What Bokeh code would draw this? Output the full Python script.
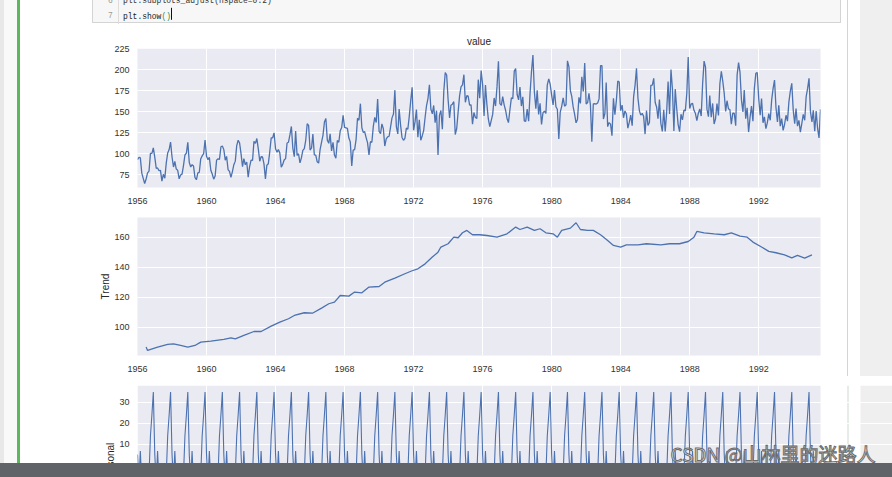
import numpy as np
import pandas as pd
from bokeh.plotting import figure
from bokeh.models import Range1d, FixedTicker, DatetimeTickFormatter, Div, Label, BoxAnnotation
from bokeh.layouts import row, column
from bokeh.embed import file_html
from bokeh.resources import INLINE

# ---------------- data ----------------
start_month = "1956-01-01"
beer_values = [
    93.2, 96.0, 95.2, 77.1, 70.9, 64.8, 70.1, 77.3, 79.5, 100.6, 100.7, 107.1,
    95.9, 82.8, 83.3, 80.0, 80.4, 67.5, 75.7, 71.1, 89.3, 101.1, 105.2, 114.1,
    96.3, 84.4, 91.2, 81.9, 80.5, 70.4, 74.8, 75.9, 86.3, 98.7, 100.9, 113.8,
    89.8, 84.4, 87.2, 85.6, 72.0, 69.2, 77.5, 78.1, 94.3, 97.7, 100.2, 116.4,
    97.1, 93.0, 96.0, 80.5, 76.1, 69.9, 73.6, 92.6, 94.2, 93.5, 108.5, 109.4,
    105.1, 92.5, 97.1, 81.4, 79.1, 72.1, 78.7, 87.1, 91.4, 109.9, 116.3, 113.0,
    100.0, 84.8, 94.3, 87.1, 90.3, 72.4, 84.9, 92.7, 92.2, 114.9, 112.5, 118.3,
    106.0, 91.2, 96.6, 96.3, 88.2, 70.2, 86.5, 88.2, 102.8, 119.1, 119.2, 125.1,
    106.1, 102.1, 105.2, 101.0, 84.3, 87.5, 92.7, 94.4, 113.0, 113.9, 122.9, 132.7,
    106.9, 96.6, 127.3, 98.2, 100.2, 89.4, 95.3, 104.2, 106.4, 116.2, 135.9, 134.0,
    104.6, 107.1, 123.5, 98.8, 98.6, 90.6, 89.1, 105.2, 114.0, 122.1, 138.0, 142.2,
    116.4, 112.6, 123.8, 103.6, 113.9, 98.6, 95.0, 116.0, 113.9, 127.5, 131.4, 145.9,
    131.5, 131.0, 130.5, 118.9, 114.3, 85.7, 104.6, 105.1, 117.3, 142.5, 140.0, 159.8,
    131.2, 125.4, 126.5, 119.4, 113.5, 98.7, 114.5, 113.8, 133.1, 143.4, 137.3, 165.2,
    126.9, 124.0, 135.7, 130.0, 109.4, 117.8, 120.3, 121.0, 132.3, 142.9, 147.4, 175.9,
    132.6, 123.7, 153.3, 134.0, 119.6, 116.2, 118.6, 130.7, 129.3, 144.4, 163.2, 179.4,
    128.1, 138.4, 152.7, 120.0, 140.5, 116.2, 121.4, 127.8, 143.6, 157.6, 166.2, 182.3,
    153.1, 147.6, 157.7, 137.2, 151.5, 98.7, 145.8, 151.7, 129.4, 174.1, 197.0, 193.9,
    164.1, 142.8, 157.9, 159.2, 162.2, 123.1, 130.0, 150.1, 169.4, 179.7, 182.1, 194.3,
    161.4, 169.4, 168.8, 158.1, 158.5, 135.3, 149.3, 143.4, 142.2, 188.4, 166.2, 199.2,
    182.7, 145.2, 182.1, 158.7, 141.6, 132.6, 139.6, 147.0, 166.6, 157.0, 180.4, 210.2,
    159.8, 157.8, 168.2, 158.4, 152.0, 142.2, 137.2, 152.6, 166.8, 165.6, 198.6, 201.5,
    170.7, 164.4, 179.7, 157.0, 168.0, 139.3, 138.6, 153.4, 138.9, 172.1, 198.4, 217.8,
    173.7, 153.8, 175.6, 147.1, 160.3, 135.2, 148.8, 151.0, 148.2, 182.2, 189.2, 183.1,
    170.0, 158.4, 176.1, 156.2, 153.2, 117.9, 149.8, 156.6, 166.7, 156.8, 158.6, 210.8,
    203.6, 175.2, 168.7, 155.9, 147.3, 137.0, 141.1, 167.4, 160.2, 191.9, 174.4, 208.2,
    159.4, 161.1, 172.1, 158.4, 114.6, 159.6, 159.7, 159.4, 160.7, 165.5, 205.0, 205.2,
    141.6, 148.1, 184.9, 132.5, 137.3, 135.5, 121.7, 166.1, 146.8, 162.8, 186.8, 185.5,
    151.5, 158.1, 143.0, 151.2, 147.6, 130.7, 137.5, 146.1, 133.6, 167.9, 181.9, 202.0,
    166.5, 151.3, 146.2, 148.3, 144.7, 123.6, 151.6, 133.9, 137.4, 181.6, 182.0, 190.0,
    161.2, 155.5, 141.9, 164.6, 136.2, 126.8, 152.5, 126.6, 150.1, 186.3, 147.5, 200.4,
    177.2, 127.4, 177.1, 154.4, 135.2, 126.4, 147.3, 140.6, 152.3, 151.2, 172.2, 215.3,
    154.1, 159.3, 160.4, 151.9, 148.4, 139.6, 148.2, 153.5, 145.1, 183.7, 210.5, 203.3,
    153.3, 144.3, 169.6, 143.7, 160.1, 135.6, 141.8, 159.9, 145.7, 183.5, 198.2, 186.8,
    172.0, 150.6, 163.3, 153.7, 152.9, 135.5, 148.5, 148.4, 133.6, 194.1, 208.6, 197.3,
    164.0, 150.0, 176.0, 142.0, 155.0, 126.0, 143.0, 157.0, 139.0, 178.0, 196.0, 197.0,
    166.0, 146.0, 166.0, 137.0, 144.0, 130.0, 137.0, 148.0, 140.0, 164.0, 178.0, 188.0,
    155.0, 138.0, 158.0, 133.0, 142.0, 128.0, 135.0, 146.0, 139.0, 162.0, 175.0, 184.0,
    152.0, 136.0, 154.0, 133.0, 140.0, 126.0, 136.0, 147.0, 140.0, 168.0, 178.0, 190.0,
    150.0, 138.0, 152.0, 127.0, 151.0, 130.0, 119.0, 153.0,
]

trend_dates = [
    "1956-07", "1956-08", "1957-03", "1957-10", "1958-02", "1958-07", "1958-12", "1959-05",
    "1959-09", "1960-04", "1961-01", "1961-06", "1961-09", "1962-03", "1962-10", "1963-03",
    "1963-10", "1964-04", "1964-10", "1965-02", "1965-09", "1966-03", "1966-09", "1967-02",
    "1967-06", "1967-10", "1968-04", "1968-08", "1969-01", "1969-06", "1970-01", "1970-05",
    "1970-12", "1971-07", "1971-12", "1972-04", "1972-09", "1973-02", "1973-06", "1973-08",
    "1974-01", "1974-05", "1974-08", "1974-11", "1975-02", "1975-06", "1975-11", "1976-04",
    "1976-11", "1977-06", "1977-12", "1978-03", "1978-08", "1979-01", "1979-05", "1979-09",
    "1980-02", "1980-05", "1980-08", "1981-02", "1981-06", "1981-09", "1982-02", "1982-06",
    "1982-11", "1983-04", "1983-08", "1984-01", "1984-05", "1985-01", "1985-07", "1986-05",
    "1986-11", "1987-06", "1987-12", "1988-04", "1988-06", "1988-11", "1989-06", "1990-01",
    "1990-06", "1990-12", "1991-05", "1991-09", "1992-03", "1992-08", "1993-01", "1993-07",
    "1993-12", "1994-04", "1994-09", "1995-02",
]
trend_values = [
    86.9, 84.7, 86.9, 88.7, 89.1, 88.0, 86.9, 88.0, 90.2, 90.9,
    92.0, 93.1, 92.4, 94.7, 97.3, 97.3, 100.9, 103.6, 105.8, 108.0,
    109.8, 109.6, 112.9, 115.8, 116.9, 121.3, 120.9, 123.6, 123.1, 126.9,
    127.3, 130.2, 132.9, 135.8, 137.8, 139.1, 142.4, 146.9, 150.2, 153.6,
    155.8, 160.2, 159.8, 163.1, 164.7, 161.8, 161.8, 161.3, 160.2, 162.4,
    166.9, 165.3, 166.9, 164.7, 165.8, 163.1, 162.4, 160.2, 164.7, 166.2,
    169.8, 165.3, 164.7, 164.7, 161.8, 158.0, 154.7, 153.6, 155.1, 155.1,
    155.8, 155.1, 155.8, 155.8, 157.3, 160.2, 164.0, 163.1, 162.4, 161.8,
    163.1, 160.9, 160.2, 156.9, 153.6, 150.7, 149.8, 148.4, 146.4, 148.0,
    146.2, 148.4,
]

# monthly seasonal indices Jan..Dec (repeat every year)
seasonal_pattern = [5.0, -8.5, 6.7, -9.0, -11.5, -27.0, -16.0, -8.0, -4.5, 14.0, 24.0, 34.8]

year_ticks = [1956, 1960, 1964, 1968, 1972, 1976, 1980, 1984, 1988, 1992]
value_ticks = [75, 100, 125, 150, 175, 200, 225]
trend_ticks = [80, 100, 120, 140, 160]
seasonal_ticks = [0, 10, 20, 30]

# ---------------- derived x positions ----------------
dates = pd.date_range(start_month, periods=len(beer_values), freq="MS")
trend_x = pd.to_datetime(trend_dates)
n_years = len(beer_values) // 12 + 1
seasonal_values = np.tile(np.array(seasonal_pattern), n_years)[:len(beer_values)]

tick_ms = [pd.Timestamp(f"{y}-01-01").value / 1e6 for y in year_ticks]

LINE = "#4c72b0"
BG = "#eaeaf2"
FONT = "Liberation Sans"
TXT = "#333333"

x_start_ms = dates[0].value / 1e6
x_end_ms = dates[-1].value / 1e6

# page-pixel geometry of the plotting frames
FRAME_L, FRAME_R = 137, 820


def px_to_ms(px):
    return x_start_ms + (px - FRAME_L) / (FRAME_R - FRAME_L) * (x_end_ms - x_start_ms)


def make_fig(width, height, ylo, yhi, yticks, mb_top, mb_bottom, mb_right, x_hi, show_x=True):
    p = figure(width=width, height=height, output_backend="svg", toolbar_location=None,
               x_axis_type="datetime", margin=0,
               x_range=Range1d(x_start_ms, x_hi), y_range=Range1d(ylo, yhi),
               min_border_left=117, min_border_right=mb_right,
               min_border_top=mb_top, min_border_bottom=mb_bottom)
    p.background_fill_color = BG
    p.border_fill_color = "white"
    p.outline_line_color = None
    p.xaxis.ticker = FixedTicker(ticks=tick_ms)
    p.xaxis.formatter = DatetimeTickFormatter(
        years="%Y", months="%Y", days="%Y", hours="%Y", hourmin="%Y",
        minutes="%Y", minsec="%Y", seconds="%Y", milliseconds="%Y", microseconds="%Y")
    p.yaxis.ticker = FixedTicker(ticks=yticks)
    for ax in p.axis:
        ax.axis_line_color = None
        ax.major_tick_line_color = None
        ax.minor_tick_line_color = None
        ax.major_tick_out = 0
        ax.major_tick_in = 0
        ax.minor_tick_out = 0
        ax.minor_tick_in = 0
        ax.major_label_text_font = FONT
        ax.major_label_text_font_size = "9px"
        ax.major_label_text_color = TXT
    p.xaxis.major_label_standoff = 10
    p.yaxis.major_label_standoff = 8
    p.grid.grid_line_color = "white"
    p.grid.grid_line_width = 1
    if not show_x:
        p.xaxis.visible = False
    return p


def ylabel(p, text):
    p.yaxis.axis_label = text
    p.yaxis.axis_label_text_font = FONT
    p.yaxis.axis_label_text_font_size = "10px"
    p.yaxis.axis_label_text_font_style = "normal"
    p.yaxis.axis_label_text_color = "#262626"
    p.yaxis.axis_label_standoff = 0


# panel 1: value  (page y 25..208, frame 48..187)
p1 = make_fig(828, 183, 60.0, 225.5, value_ticks, 23, 21, 28, x_end_ms)
p1.title.text = "value"
p1.title.align = "center"
p1.title.text_font = FONT
p1.title.text_font_size = "10px"
p1.title.text_font_style = "normal"
p1.title.text_color = "#262626"
p1.title.standoff = 3
p1.line(dates, beer_values, line_color=LINE, line_width=1.3)

# panel 2: trend  (page y 208..376, frame 217..355)
p2 = make_fig(828, 168, 81.3, 173.3, trend_ticks, 9, 21, 28, x_end_ms)
ylabel(p2, "Trend")
p2.line(trend_x, trend_values, line_color=LINE, line_width=1.3)

# panel 3: seasonal (page y 376..463, cut off by the player bar); frame runs to the page edge
p3 = make_fig(872, 87, 0.76, 37.9, seasonal_ticks, 9, 0, 0, px_to_ms(892), show_x=False)
p3.background_fill_color = "white"
p3.add_layout(BoxAnnotation(left=x_start_ms, right=x_end_ms, fill_color=BG, fill_alpha=1,
                            line_color=None, level="image"))
p3.add_layout(BoxAnnotation(left=px_to_ms(847), right=px_to_ms(848), fill_color="#cdd9cf",
                            fill_alpha=1, line_color=None, level="image"))
p3.add_layout(BoxAnnotation(left=px_to_ms(860), fill_color="#efefef", fill_alpha=1,
                            line_color=None, level="image"))
p3.ygrid.bounds = (x_start_ms, x_end_ms)
ylabel(p3, "Seasonal")
try:
    p3.yaxis.axis_label_align = "start"
except Exception:
    pass
p3.line(dates, seasonal_values, line_color=LINE, line_width=1.1)
p3.add_layout(Label(x=px_to_ms(875), y=5.3, text="CSDN @山林里的迷路人",
                    text_align="right", text_baseline="middle",
                    text_font="Noto Sans CJK SC", text_font_size="19px",
                    text_color="#f2f2f2", text_outline_color="#6b6b6b"))

# ---------------- notebook chrome ----------------
code_html = (
    '<div style="position:relative;width:872px;height:25px;overflow:hidden;background:#ffffff;">'
    '<div style="position:absolute;left:827px;top:0;width:1px;height:25px;background:#cdd9cf;"></div>'
    '<div style="position:absolute;left:840px;top:0;width:32px;height:25px;background:#efefef;"></div>'
    '<div style="position:absolute;left:72px;top:-10px;width:749px;height:33px;background:#f7f7f7;'
    'border:1px solid #d4d4d4;font-family:\'Liberation Mono\',monospace;font-size:8px;line-height:11px;">'
    '<div style="position:absolute;left:25px;top:0;width:1px;height:33px;background:#dddddd;"></div>'
    '<div style="position:absolute;left:15px;top:3px;color:#9a9a9a;transform:scaleY(1.2);">6</div>'
    '<div style="position:absolute;left:30px;top:3px;color:#333;transform:scaleY(1.2);white-space:nowrap;">'
    'plt.subplots_adjust(hspace=0.2)</div>'
    '<div style="position:absolute;left:15px;top:18px;color:#9a9a9a;transform:scaleY(1.2);">7</div>'
    '<div style="position:absolute;left:30px;top:18px;color:#222;transform:scaleY(1.2);white-space:nowrap;">'
    'plt.show<span style="color:#3a8a3a;">()</span>'
    '<span style="display:inline-block;width:1px;height:10px;background:#111;vertical-align:-1px;"></span>'
    '</div></div></div>'
)
code_div = Div(text=code_html, width=872, height=25, margin=0)

left_html = (
    '<div style="position:relative;width:20px;height:463px;background:#f9f9f9;">'
    '<div style="position:absolute;left:0;top:0;width:4px;height:463px;background:#e8e8e8;"></div>'
    '<div style="position:absolute;left:17px;top:0;width:3px;height:463px;background:#5cb85c;"></div>'
    '</div>'
)
left_div = Div(text=left_html, width=20, height=463, margin=0)

right_html = (
    '<div style="position:relative;width:44px;height:351px;background:#ffffff;">'
    '<div style="position:absolute;left:-1px;top:0;width:1px;height:351px;background:#cdd9cf;"></div>'
    '<div style="position:absolute;left:12px;top:0;width:32px;height:351px;background:#efefef;"></div>'
    '</div>'
)
right_div = Div(text=right_html, width=44, height=351, margin=0)

bar_div = Div(text='<div style="width:892px;height:14px;background:#606367;"></div>',
              width=892, height=14, margin=0)

middle = column(code_div, row(column(p1, p2, spacing=0), right_div, spacing=0), p3, spacing=0)
layout = column(row(left_div, middle, spacing=0), bar_div, spacing=0)

open("out.html", "w").write(file_html(layout, INLINE))
